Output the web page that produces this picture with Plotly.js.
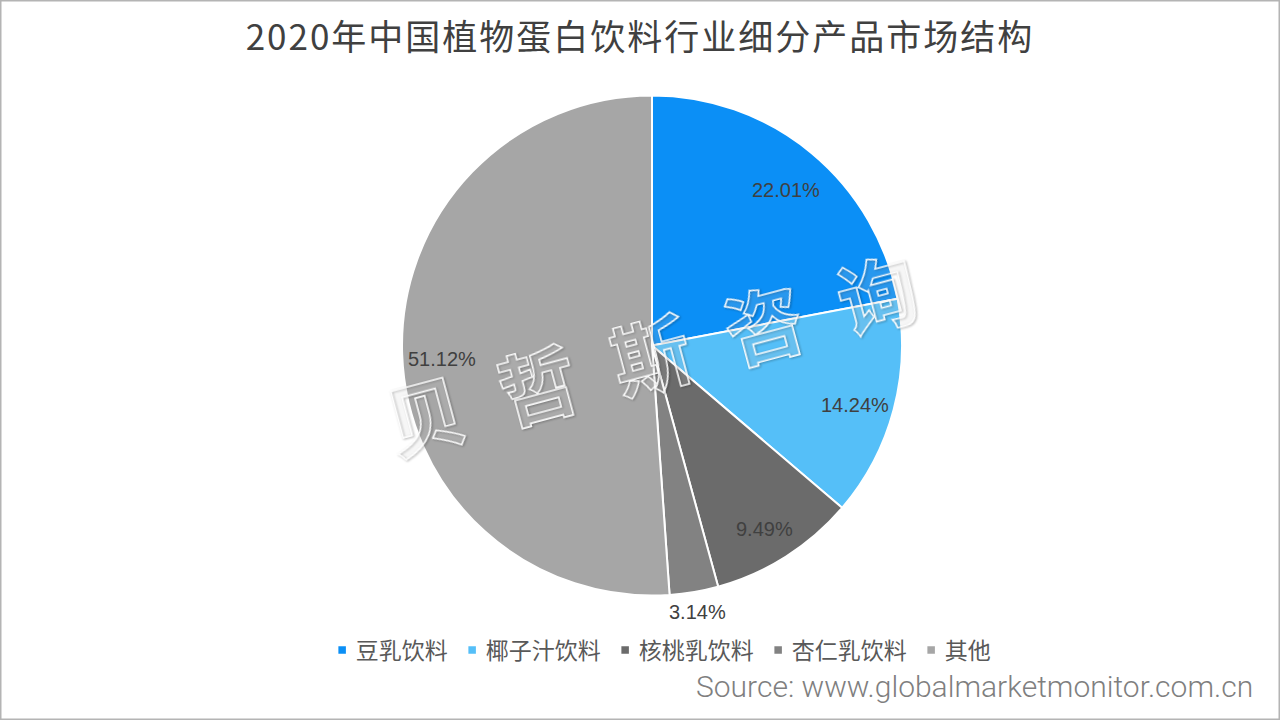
<!DOCTYPE html>
<html>
<head>
<meta charset="utf-8">
<script src="https://cdn.plot.ly/plotly-3.0.1.min.js"></script>
<style>
  html, body { margin: 0; padding: 0; background: #fff; }
  #chart { width: 1280px; height: 720px; }
</style>
</head>
<body>
<div id="chart"></div>
<script>
const categories = ['豆乳饮料', '椰子汁饮料', '核桃乳饮料', '杏仁乳饮料', '其他'];
const shares = [22.01, 14.24, 9.49, 3.14, 51.12];
const sliceColors = ['#0b8ff6', '#55bff8', '#6b6b6b', '#828282', '#a6a6a6'];
const titleText = '2020年中国植物蛋白饮料行业细分产品市场结构';
const sourceText = 'Source: www.globalmarketmonitor.com.cn';
const watermarkText = '贝\u2002哲\u2002斯\u2002咨\u2002询';

const W = 1280, H = 720;
const cx = 652, cy = 345.5, R = 250;

const trace = {
  type: 'pie',
  labels: categories,
  values: shares,
  sort: false,
  direction: 'clockwise',
  rotation: 0,
  marker: { colors: sliceColors, line: { color: '#ffffff', width: 2 } },
  textinfo: 'none',
  hoverinfo: 'label+percent',
  domain: { x: [(cx - R) / W, (cx + R) / W], y: [1 - (cy + R) / H, 1 - (cy - R) / H] }
};

// data labels placed at each slice's mid-angle, computed from the shares
const total = shares.reduce((a, b) => a + b, 0);
let cum = 0;
const labelAnnotations = shares.map(function (v) {
  const mid = (cum + v / 2) / total * 2 * Math.PI;
  cum += v;
  const outside = v / total < 0.05;
  const rf = outside ? 1.08 : 0.84;
  const px = cx + rf * R * Math.sin(mid);
  const py = cy - rf * R * Math.cos(mid) + (outside ? 0 : 6);
  return {
    text: v.toFixed(2) + '%', xref: 'paper', yref: 'paper',
    x: px / W, y: 1 - py / H, xanchor: 'center', yanchor: 'middle', showarrow: false,
    font: { family: 'Liberation Sans, Arial, sans-serif', size: 20, color: '#404040' }
  };
});

const layout = {
  width: W, height: H,
  margin: { l: 0, r: 0, t: 0, b: 0 },
  paper_bgcolor: '#ffffff',
  title: {
    text: titleText,
    font: { family: 'Noto Sans CJK SC, sans-serif', size: 35, color: '#404040' },
    x: 0.5, xanchor: 'center', y: 1 - 38 / H, yanchor: 'middle'
  },
  showlegend: true,
  legend: {
    orientation: 'h', x: 0.513, xanchor: 'center', y: 1 - 650 / H, yanchor: 'middle',
    font: { family: 'Noto Sans CJK SC, sans-serif', size: 23, color: '#595959' },
    itemwidth: 30, traceorder: 'normal'
  },
  annotations: labelAnnotations.concat([
    {
      text: watermarkText, xref: 'paper', yref: 'paper', x: 650 / W, y: 1 - 352 / H,
      xanchor: 'center', yanchor: 'middle', showarrow: false, textangle: -15,
      font: { family: 'Noto Sans CJK SC, sans-serif', size: 78, color: 'rgba(255,255,255,0.12)', weight: 700 }
    },
    {
      text: sourceText, xref: 'paper', yref: 'paper', x: 1255 / W, y: 1 - 686 / H,
      xanchor: 'right', yanchor: 'middle', showarrow: false,
      font: { family: 'Roboto, sans-serif', size: 30, color: '#7f7f7f', weight: 300 }
    }
  ]),
  shapes: [
    { type: 'rect', xref: 'paper', yref: 'paper', x0: 0, y0: 0, x1: 1, y1: 1,
      line: { color: '#b4b4b4', width: 3 }, fillcolor: 'rgba(0,0,0,0)' }
  ]
};

function parseTranslate(s) {
  const m = /translate\(\s*([-\d.e]+)[ ,]+([-\d.e]+)\s*\)/.exec(s || '');
  return m ? [parseFloat(m[1]), parseFloat(m[2])] : [0, 0];
}

Plotly.newPlot('chart', [trace], layout, { displayModeBar: false, staticPlot: true }).then(function (gd) {
  const wm = gd.querySelector('.annotation[data-index="' + shares.length + '"] text');
  if (wm) {
    wm.style.stroke = 'rgba(255,255,255,0.95)';
    wm.style.strokeWidth = '1.6px';
    wm.style.filter = 'drop-shadow(1px 1px 1.2px rgba(0,0,0,0.35))';
  }
  const tt = gd.querySelector('.gtitle');
  if (tt) { tt.style.letterSpacing = '2px'; }

  // compact legend entries: small square marker close to its label
  const groups = Array.from(gd.querySelectorAll('.legend .traces'));
  if (groups.length) {
    const first = parseTranslate(groups[0].getAttribute('transform'));
    const lastG = groups[groups.length - 1];
    const lastT = parseTranslate(lastG.getAttribute('transform'));
    const lastText = lastG.querySelector('text.legendtext');
    const oldEnd = lastT[0] + 40 + (lastText ? lastText.getComputedTextLength() : 0);
    const oldCenter = (first[0] + 20 + oldEnd) / 2;
    const symHalf = 4.5, textGap = 9, afterGap = 20;
    const widths = groups.map(function (g) {
      const t = g.querySelector('text.legendtext');
      return t ? t.getComputedTextLength() : 0;
    });
    let totalW = 0;
    widths.forEach(function (w, i) {
      totalW += 2 * symHalf + textGap + w + (i < widths.length - 1 ? afterGap : 0);
    });
    let x = oldCenter - totalW / 2;
    groups.forEach(function (g, i) {
      const tr = parseTranslate(g.getAttribute('transform'));
      const startX = x - (20 - symHalf);
      g.setAttribute('transform', 'translate(' + startX + ',' + tr[1] + ')');
      g.querySelectorAll('.legendpoints path').forEach(function (p) {
        p.setAttribute('transform', (p.getAttribute('transform') || '') + ' scale(0.75)');
      });
      const t = g.querySelector('text.legendtext');
      if (t) {
        const tx = 20 + symHalf + textGap;
        t.setAttribute('x', tx);
        t.querySelectorAll('tspan').forEach(function (s) { if (s.hasAttribute('x')) s.setAttribute('x', tx); });
      }
      x += 2 * symHalf + textGap + widths[i] + afterGap;
    });
  }
});
</script>
</body>
</html>
